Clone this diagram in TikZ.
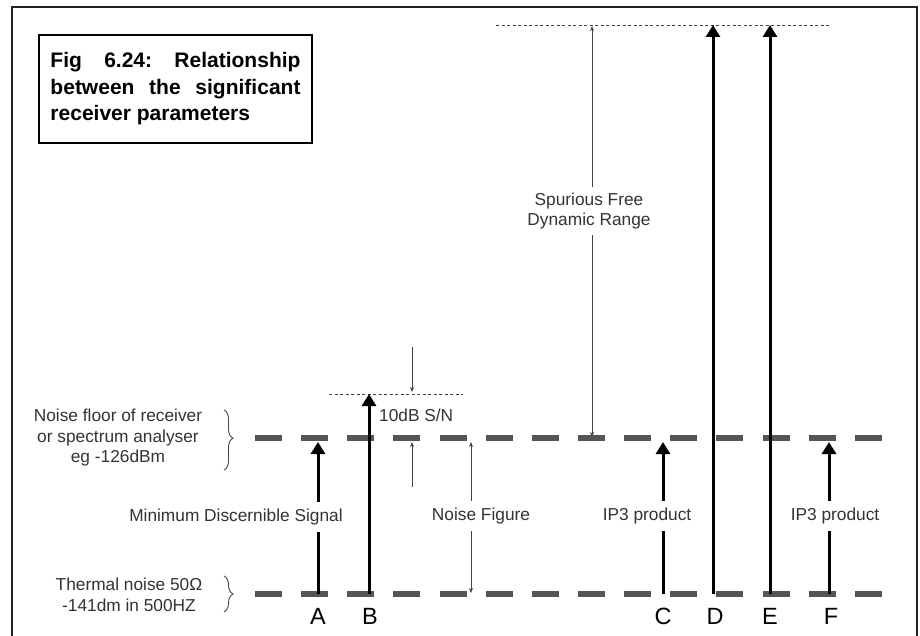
\documentclass[tikz,border=0pt]{standalone}
\usepackage{fontspec}
\setmainfont{Liberation Sans}
\usetikzlibrary{arrows.meta,decorations.pathreplacing}
\definecolor{txtgray}{HTML}{333333}
\definecolor{floorgray}{HTML}{555555}
\definecolor{thingray}{HTML}{444444}
\definecolor{framegray}{HTML}{222222}
\begin{document}
\begin{tikzpicture}[x=1bp,y=-1bp,
  txt/.style={font=\fontsize{17.3bp}{20.5bp}\selectfont, text=txtgray, align=center, inner sep=0pt},
  cut/.style={fill=white, inner xsep=2bp, inner ysep=7bp},
  floorline/.style={line width=6bp, draw=floorgray, dash pattern=on 27bp off 19.14bp},
  bigarrow/.style={line width=3bp, -{Triangle[width=14bp,length=12bp]}},
  thinarrow/.style={line width=0.8bp, draw=thingray, -{Stealth[length=5bp,width=4bp]}},
  thinboth/.style={line width=0.8bp, draw=thingray, {Stealth[length=5bp,width=4bp]}-{Stealth[length=5bp,width=4bp]}},
  dots/.style={line width=0.8bp, draw=thingray, dash pattern=on 3bp off 2.5bp},
  bracestyle/.style={line width=0.9bp, draw=thingray, decorate, decoration={brace, amplitude=9bp, #1}},
  lett/.style={font=\fontsize{23.5bp}{23.5bp}\selectfont, inner sep=0pt}
]
\useasboundingbox (0,0) rectangle (920,636);
% frame
\coordinate (f1) at (12,636);
\coordinate (f2) at (12,7);
\coordinate (f3) at (917,7);
\coordinate (f4) at (917,636);
\draw[line width=2bp, draw=framegray] (f1) -- (f2) -- (f3) -- (f4);

% title
\node[draw, line width=1.5bp, minimum width=273bp, minimum height=108bp, inner sep=0pt] (title) at (175.5,89)
 {\parbox{250bp}{\fontsize{21bp}{26.5bp}\selectfont\bfseries
  \hbox to 250bp{Fig\hfill 6.24:\hfill Relationship}
  \hbox to 250bp{between\hfill the\hfill significant}
  \hbox{receiver parameters}}};

% floor lines
\coordinate (nfL) at (255,438);
\coordinate (nfR) at (884,438);
\coordinate (thL) at (255,594);
\coordinate (thR) at (884,594);
\draw[floorline] (nfL) -- (nfR);
\draw[floorline] (thL) -- (thR);

% dotted reference lines
\coordinate (topL) at (496,25);
\coordinate (topR) at (829,25);
\coordinate (snL) at (329,394);
\coordinate (snR) at (463,394);
\draw[dots] (topL) -- (topR);
\draw[dots] (snL) -- (snR);

% signal arrows
\coordinate (a0) at (318,594); \coordinate (a1) at (318,442);
\coordinate (b0) at (369,594); \coordinate (b1) at (369,394);
\coordinate (c0) at (663,594); \coordinate (c1) at (663,442);
\coordinate (d0) at (713,594); \coordinate (d1) at (713,25);
\coordinate (e0) at (770,594); \coordinate (e1) at (770,25);
\coordinate (g0) at (829,594); \coordinate (g1) at (829,442);
\draw[bigarrow] (a0) -- (a1);
\draw[bigarrow] (b0) -- (b1);
\draw[bigarrow] (c0) -- (c1);
\draw[bigarrow] (d0) -- (d1);
\draw[bigarrow] (e0) -- (e1);
\draw[bigarrow] (g0) -- (g1);

% thin dimension arrows
\coordinate (s0) at (592,26); \coordinate (s1) at (592,437);
\coordinate (n0) at (471,442); \coordinate (n1) at (471,593);
\coordinate (u0) at (412,347); \coordinate (u1) at (412,392);
\coordinate (w0) at (412,487); \coordinate (w1) at (412,442);
\draw[thinboth] (s0) -- (s1);
\draw[thinboth] (n0) -- (n1);
\draw[thinarrow] (u0) -- (u1);
\draw[thinarrow] (w0) -- (w1);

% braces
\coordinate (br1t) at (224,410); \coordinate (br1b) at (224,470);
\coordinate (br2t) at (224,576); \coordinate (br2b) at (224,612);
\draw[bracestyle={aspect=0.47}] (br1t) -- (br1b);
\draw[bracestyle={aspect=0.5}] (br2t) -- (br2b);

% texts
\node[txt] (nfl) at (118,438) {Noise floor of receiver\\or spectrum analyser\\eg -126dBm};
\node[txt] (thn) at (129,595) {Thermal noise 50Ω\\-141dm in 500HZ};
\node[txt,cut] (mds) at (236,517) {Minimum Discernible Signal};
\node[txt,cut] (nfg) at (481,516) {Noise Figure};
\node[txt,cut] (ip1) at (647,516) {IP3 product};
\node[txt,cut] (ip2) at (835,516) {IP3 product};
\node[txt,cut,inner ysep=6bp] (sfdr) at (589,211) {Spurious Free\\Dynamic Range};
\node[txt,anchor=west] (snr) at (379,415) {10dB S/N};

% letters
\node[lett] (la) at (318,616) {A};
\node[lett] (lb) at (370,616) {B};
\node[lett] (lc) at (663,616) {C};
\node[lett] (ld) at (715,616) {D};
\node[lett] (le) at (770,616) {E};
\node[lett] (lf) at (831,616) {F};
\end{tikzpicture}
\end{document}
